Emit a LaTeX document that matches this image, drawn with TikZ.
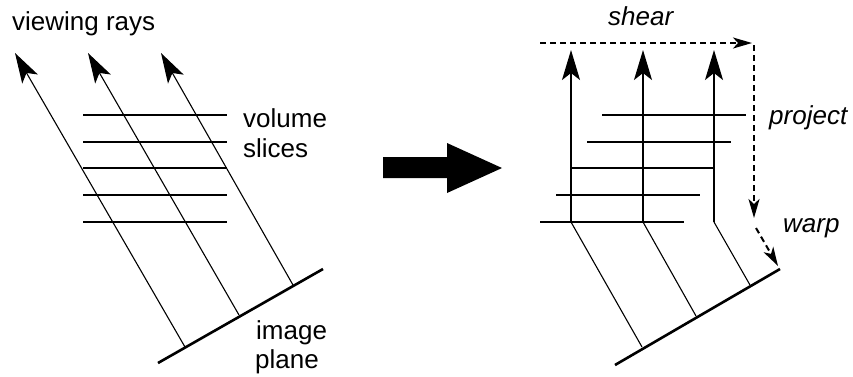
\documentclass[tikz,border=0pt]{standalone}
\usepackage{fontspec}
\setmainfont{Liberation Sans}
\usetikzlibrary{arrows.meta}

\begin{document}
\begin{tikzpicture}[x=1pt,y=1pt,yscale=-1,xscale=1,
  ray/.style={line width=1.1pt,-{Stealth[length=30pt,width=18pt,inset=7pt]}},
  thinray/.style={line width=1.1pt},
  upray/.style={line width=1.5pt,-{Stealth[length=30pt,width=18pt,inset=7pt]}},
  slice/.style={line width=2.5pt},
  plane/.style={line width=2.6pt},
  flow/.style={line width=2pt,dash pattern=on 6pt off 4pt,-{Stealth[length=19pt,width=11pt,inset=5pt]}},
  lbl/.style={inner sep=0pt,anchor=base west,font=\fontsize{26}{30}\selectfont},
  ilbl/.style={lbl,font=\fontsize{26}{30}\selectfont\itshape}]
\useasboundingbox (0,0) rectangle (853,376);

%Shape: image plane, left
\coordinate (lp1) at (158,363);
\coordinate (lp2) at (323,269);
\draw [plane] (lp1) -- (lp2);
%Shape: viewing rays, left
\coordinate (lb1) at (185,347);
\coordinate (lb2) at (239,315);
\coordinate (lb3) at (293,285);
\coordinate (lt1) at (15,53);
\coordinate (lt2) at (88,53);
\coordinate (lt3) at (161,53);
\draw [ray] (lb1) -- (lt1);
\draw [ray] (lb2) -- (lt2);
\draw [ray] (lb3) -- (lt3);
%Shape: volume slices, left
\draw [slice] (83,115) -- (227,115);
\draw [slice] (83,142) -- (227,142);
\draw [slice] (83,168) -- (227,168);
\draw [slice] (83,195) -- (227,195);
\draw [slice] (83,222) -- (227,222);

%Shape: big arrow
\fill (383,157) -- (447,157) -- (447,143) -- (502,168) -- (447,193) -- (447,178) -- (383,178) -- cycle;

%Shape: image plane, right
\coordinate (rp1) at (615,365);
\coordinate (rp2) at (780,269);
\draw [plane] (rp1) -- (rp2);
%Shape: sheared rays, right
\coordinate (rb1) at (642,347);
\coordinate (rb2) at (696,316);
\coordinate (rb3) at (750,285);
\coordinate (rk1) at (571,222);
\coordinate (rk2) at (643,222);
\coordinate (rk3) at (714,222);
\coordinate (rt1) at (571,50);
\coordinate (rt2) at (643,50);
\coordinate (rt3) at (714,50);
\draw [thinray] (rb1) -- (rk1);
\draw [thinray] (rb2) -- (rk2);
\draw [thinray] (rb3) -- (rk3);
\draw [upray] (rk1) -- (rt1);
\draw [upray] (rk2) -- (rt2);
\draw [upray] (rk3) -- (rt3);
%Shape: volume slices, right
\draw [slice] (602,115) -- (746,115);
\draw [slice] (587,142) -- (731,142);
\draw [slice] (571,168) -- (715,168);
\draw [slice] (556,195) -- (700,195);
\draw [slice] (540,222) -- (684,222);

%Shape: shear, project, warp
\coordinate (sh1) at (540,43);
\coordinate (sh2) at (752,43);
\coordinate (pr1) at (754,45);
\coordinate (pr2) at (754,218);
\coordinate (wa1) at (756,228);
\coordinate (wa2) at (778,266);
\draw [flow] (sh1) -- (sh2);
\draw [flow] (pr1) -- (pr2);
\draw [flow] (wa1) -- (wa2);

% Text Node
\node [lbl] (viewing) at (12,30) {viewing rays};
% Text Node
\node [lbl] (volume) at (243,127) {volume};
\node [lbl] (slices) at (243,157) {slices};
% Text Node
\node [lbl] (image) at (256,339) {image};
\node [lbl] (plane) at (255,368) {plane};
% Text Node
\node [ilbl] (shear) at (608,25) {shear};
\node [ilbl] (project) at (769,124) {project};
\node [ilbl] (warp) at (783,232) {warp};
\end{tikzpicture}
\end{document}
